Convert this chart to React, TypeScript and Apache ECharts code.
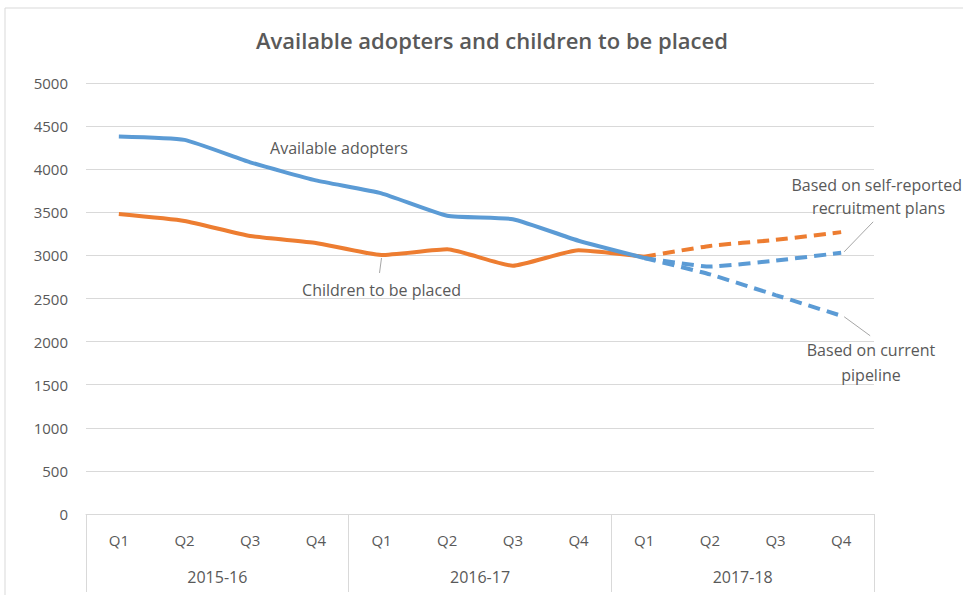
import React, { useEffect, useRef } from "react";
import * as echarts from "echarts";

const quarters = ["Q1", "Q2", "Q3", "Q4", "Q1", "Q2", "Q3", "Q4", "Q1", "Q2", "Q3", "Q4"];
const years = ["2015-16", "2016-17", "2017-18"];

const adoptersActual = [4380, 4340, 4080, 3870, 3720, 3460, 3420, 3170, 2970, null, null, null];
const adoptersPipeline = [null, null, null, null, null, null, null, null, 2970, 2780, 2540, 2300];
const adoptersSelfReported = [null, null, null, null, null, null, null, null, 2970, 2870, 2940, 3030];
const childrenActual = [3480, 3400, 3225, 3145, 3005, 3070, 2880, 3060, 2985, null, null, null];
const childrenProjection = [null, null, null, null, null, null, null, null, 2985, 3110, 3180, 3270];

const BLUE = "#5b9bd5";
const ORANGE = "#ed7d31";
const TEXT = "#595959";
const GRID = "#d9d9d9";
const FONT = "'Open Sans', 'Noto Sans', sans-serif";

export default function App() {
  const ref = useRef<HTMLDivElement>(null);
  useEffect(() => {
    if (!ref.current) return;
    const chart = echarts.init(ref.current, null, { renderer: "svg" });
    const dash = [12, 7];
    const option: any = {
      animation: false,
      textStyle: { fontFamily: FONT },
      title: {
        text: "Available adopters and children to be placed",
        left: 251,
        top: 24,
        textStyle: { fontFamily: FONT, fontSize: 22, fontWeight: 600, color: TEXT },
      },
      grid: { left: 86, right: 89, top: 83, bottom: 81 },
      xAxis: [
        {
          type: "category",
          data: quarters,
          boundaryGap: true,
          axisLine: { show: true, lineStyle: { color: GRID, width: 1 } },
          axisTick: { show: false },
          axisLabel: { color: TEXT, fontSize: 15, margin: 18, fontFamily: FONT },
          splitLine: { show: false },
        },
        {
          type: "category",
          data: years,
          position: "bottom",
          offset: 78,
          boundaryGap: true,
          axisLine: { show: false },
          axisTick: { show: true, inside: true, length: 78, lineStyle: { color: GRID } },
          axisLabel: { inside: true, color: TEXT, fontSize: 16, margin: 7, fontFamily: FONT },
        },
      ],
      yAxis: {
        type: "value",
        min: 0,
        max: 5000,
        interval: 500,
        axisLine: { show: false },
        axisTick: { show: false },
        axisLabel: {
          color: TEXT,
          fontSize: 15,
          margin: 18,
          fontFamily: FONT,
          formatter: (v: number) => String(v),
        },
        splitLine: { lineStyle: { color: GRID, width: 1 } },
      },
      series: [
        {
          name: "Available adopters",
          type: "line",
          data: adoptersActual,
          smooth: 0.15,
          showSymbol: false,
          lineStyle: { color: BLUE, width: 4 },
          z: 3,
        },
        {
          name: "Adopters pipeline",
          type: "line",
          data: adoptersPipeline,
          smooth: 0.15,
          showSymbol: false,
          lineStyle: { color: BLUE, width: 4, type: dash },
          z: 3,
        },
        {
          name: "Adopters self-reported",
          type: "line",
          data: adoptersSelfReported,
          smooth: 0.15,
          showSymbol: false,
          lineStyle: { color: BLUE, width: 4, type: dash },
          z: 3,
        },
        {
          name: "Children to be placed",
          type: "line",
          data: childrenActual,
          smooth: 0.15,
          showSymbol: false,
          lineStyle: { color: ORANGE, width: 4 },
          z: 2,
        },
        {
          name: "Children projection",
          type: "line",
          data: childrenProjection,
          smooth: 0.15,
          showSymbol: false,
          lineStyle: { color: ORANGE, width: 4, type: dash },
          z: 2,
        },
      ],
    };
    chart.setOption(option);

    const px = (i: number, v: number) => chart.convertToPixel({ gridIndex: 0 }, [i, v]) as number[];
    const childPt = px(4, childrenActual[4] as number);
    const selfPt = px(11, adoptersSelfReported[11] as number);
    const pipePt = px(11, adoptersPipeline[11] as number);
    const textStyle = (text: string, align: string) => ({
      text,
      fill: TEXT,
      font: `16px ${FONT}`,
      align,
      verticalAlign: "middle",
    });
    chart.setOption({
      graphic: [
        {
          type: "rect",
          shape: { x: 5, y: 8, width: 1000, height: 700 },
          style: { fill: "none", stroke: GRID, lineWidth: 1 },
          silent: true,
          z: -1,
        },
        {
          type: "text",
          x: 339,
          y: 148,
          style: textStyle("Available adopters", "center"),
        },
        {
          type: "line",
          shape: { x1: childPt[0], y1: childPt[1] + 3, x2: childPt[0] - 2, y2: childPt[1] + 18 },
          style: { stroke: "#a6a6a6", lineWidth: 1 },
        },
        {
          type: "text",
          x: childPt[0],
          y: 290,
          style: textStyle("Children to be placed", "center"),
        },
        {
          type: "line",
          shape: { x1: selfPt[0] + 3, y1: selfPt[1] - 1, x2: selfPt[0] + 32, y2: selfPt[1] - 31 },
          style: { stroke: "#a6a6a6", lineWidth: 1 },
        },
        {
          type: "text",
          x: 962,
          y: 185,
          style: textStyle("Based on self-reported", "right"),
        },
        {
          type: "text",
          x: 945,
          y: 208,
          style: textStyle("recruitment plans", "right"),
        },
        {
          type: "line",
          shape: { x1: pipePt[0] + 3, y1: pipePt[1] + 1, x2: pipePt[0] + 29, y2: pipePt[1] + 20 },
          style: { stroke: "#a6a6a6", lineWidth: 1 },
        },
        {
          type: "text",
          x: 871,
          y: 350,
          style: textStyle("Based on current", "center"),
        },
        {
          type: "text",
          x: 871,
          y: 375,
          style: textStyle("pipeline", "center"),
        },
      ],
    });
    return () => chart.dispose();
  }, []);
  return (
    <div
      ref={ref}
      style={{ position: "fixed", left: 0, top: 0, width: 963, height: 595, background: "#fff" }}
    />
  );
}
